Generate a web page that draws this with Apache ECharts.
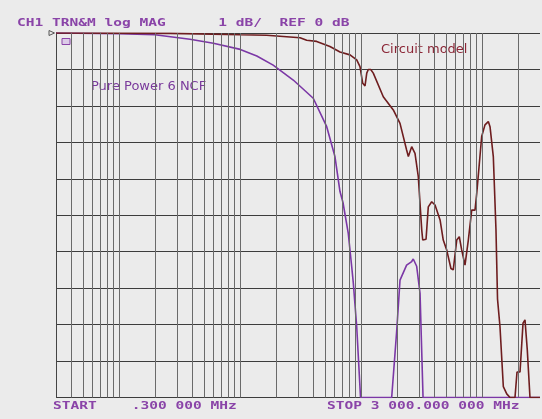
<!DOCTYPE html>
<html>
<head>
<meta charset="utf-8">
<script src="https://cdn.jsdelivr.net/npm/echarts@6/dist/echarts.min.js"></script>
<style>
html,body{margin:0;padding:0;background:#ebebeb;}
#c{width:542px;height:419px;}
</style>
</head>
<body>
<div id="c"></div>
<script>
// Frequencies in MHz, magnitudes in dB
const brownFreq = [0.3, 2.63, 10, 16.5, 31.2, 35.4, 42.8, 55.1, 66.7, 80.7, 91.7, 97.6, 102.8, 107.4, 111, 114.3, 119.7, 125.7, 152, 184, 209, 237, 245, 261, 278, 296, 316, 322, 343, 358, 382, 407, 448, 476, 508, 551, 576, 615, 646, 676, 720, 767, 818, 871, 900, 989, 1053, 1122, 1159, 1234, 1298, 1337, 1401, 1493, 1593, 1696, 1864, 1937, 2051, 2172, 2255, 2356, 2479, 3000];
const brownDb = [0, -0.01, -0.05, -0.06, -0.13, -0.2, -0.23, -0.37, -0.52, -0.6, -0.74, -0.92, -1.38, -1.45, -1.1, -1.0, -1.0, -1.1, -1.75, -2.11, -2.48, -3.21, -3.39, -3.12, -3.3, -3.94, -5.4, -5.68, -5.66, -4.77, -4.63, -4.72, -5.13, -5.68, -5.95, -6.46, -6.5, -5.68, -5.59, -5.95, -6.37, -5.68, -4.86, -4.86, -4.4, -2.84, -2.52, -2.43, -2.57, -3.39, -5.4, -7.3, -8.06, -9.7, -9.9, -10, -10, -9.3, -9.3, -7.96, -7.87, -8.7, -10, -10];

const purpleFreq = [0.3, 1.0, 1.97, 3.84, 5.99, 10, 13.7, 18.7, 27.4, 40.1, 51.8, 60.6, 66.7, 70.6, 78.1, 83.3, 86, 91.7, 98.6, 178.4, 196, 209, 237, 261, 269, 287, 306, 324, 3000];
const purpleDb = [0, -0.02, -0.05, -0.17, -0.28, -0.45, -0.63, -0.88, -1.29, -1.79, -2.57, -3.39, -4.35, -4.65, -5.5, -6.4, -6.87, -8.06, -10, -10, -8.2, -6.78, -6.37, -6.27, -6.2, -6.4, -7.14, -10, -10];

const startFreq = 0.3, stopFreq = 3000;
const refDb = 0, minDb = -10, dbPerDiv = 1;

const headerText = 'CH1 TRN&M log MAG      1 dB/  REF 0 dB';
const startText = 'START    .300 000 MHz';
const stopText = 'STOP 3 000.000 000 MHz';
const brownLabel = 'Circuit model';
const purpleLabel = 'Pure Power 6 NCF';

// log grid lines: 1..9 per decade between start and stop
const gridFreqs = [];
for (let d = -1; d <= 3; d++) {
  for (let m = 1; m <= 9; m++) {
    const f = +(m * Math.pow(10, d)).toPrecision(3);
    if (f > startFreq && f < stopFreq) gridFreqs.push(f);
  }
}

const zip = (a, b) => a.map((v, i) => [v, b[i]]);

const purpleCol = '#7b37a6';
const brownCol = '#6e1d1f';
const textPurple = '#8a44a8';

const chart = echarts.init(document.getElementById('c'), null, {renderer: 'canvas'});
const mono = 'bold 10px "DejaVu Sans Mono"';
const sx = 1.453;

chart.setOption({
  animation: false,
  backgroundColor: '#ebebeb',
  grid: {left: 56, right: 2, top: 33, bottom: 21.5},
  xAxis: {
    type: 'log', logBase: 10, min: startFreq, max: stopFreq,
    axisLabel: {show: false}, axisTick: {show: false},
    splitLine: {show: false}, minorSplitLine: {show: false},
    axisLine: {show: false}
  },
  yAxis: {
    type: 'value', min: minDb, max: refDb, interval: dbPerDiv,
    axisLabel: {show: false}, axisTick: {show: false},
    axisLine: {show: true, lineStyle: {color: '#444', width: 1}},
    splitLine: {show: true, showMinLine: true, showMaxLine: true, lineStyle: {color: '#3c3c3c', width: 1.2}}
  },
  series: [
    {
      type: 'line', data: [], silent: true,
      markLine: {
        silent: true, symbol: ['none', 'none'], label: {show: false},
        lineStyle: {color: '#6a6a6a', width: 1, type: 'solid'},
        data: gridFreqs.map(f => ({xAxis: f}))
      }
    },
    {
      name: purpleLabel, type: 'line', data: zip(purpleFreq, purpleDb),
      showSymbol: false, symbol: 'none', smooth: false,
      lineStyle: {color: purpleCol, width: 1.6}
    },
    {
      name: brownLabel, type: 'line', data: zip(brownFreq, brownDb),
      showSymbol: false, symbol: 'none', smooth: false,
      lineStyle: {color: brownCol, width: 1.6}
    }
  ],
  graphic: [
    {type: 'text', x: 17, y: 23.5, scaleX: sx, silent: true,
     style: {text: headerText, font: mono, fill: textPurple, align: 'left', verticalAlign: 'middle'}},
    {type: 'text', x: 53, y: 406.5, scaleX: sx, silent: true,
     style: {text: startText, font: mono, fill: textPurple, align: 'left', verticalAlign: 'middle'}},
    {type: 'text', x: 327, y: 406.5, scaleX: sx, silent: true,
     style: {text: stopText, font: mono, fill: textPurple, align: 'left', verticalAlign: 'middle'}},
    {type: 'text', x: 381, y: 50, silent: true,
     style: {text: brownLabel, font: '13px "DejaVu Sans"', fill: '#8b2636', align: 'left', verticalAlign: 'middle'}},
    {type: 'text', x: 91, y: 87, silent: true,
     style: {text: purpleLabel, font: '13px "DejaVu Sans"', fill: '#7a3a9c', align: 'left', verticalAlign: 'middle'}},
    {type: 'polygon', silent: true,
     shape: {points: [[49, 30.5], [54.5, 33], [49, 35.5]]},
     style: {fill: 'none', stroke: '#555', lineWidth: 1}},
    {type: 'rect', silent: true,
     shape: {x: 62, y: 38.5, width: 8, height: 6},
     style: {fill: '#dccbe8', stroke: textPurple, lineWidth: 1}}
  ]
});
</script>
</body>
</html>
